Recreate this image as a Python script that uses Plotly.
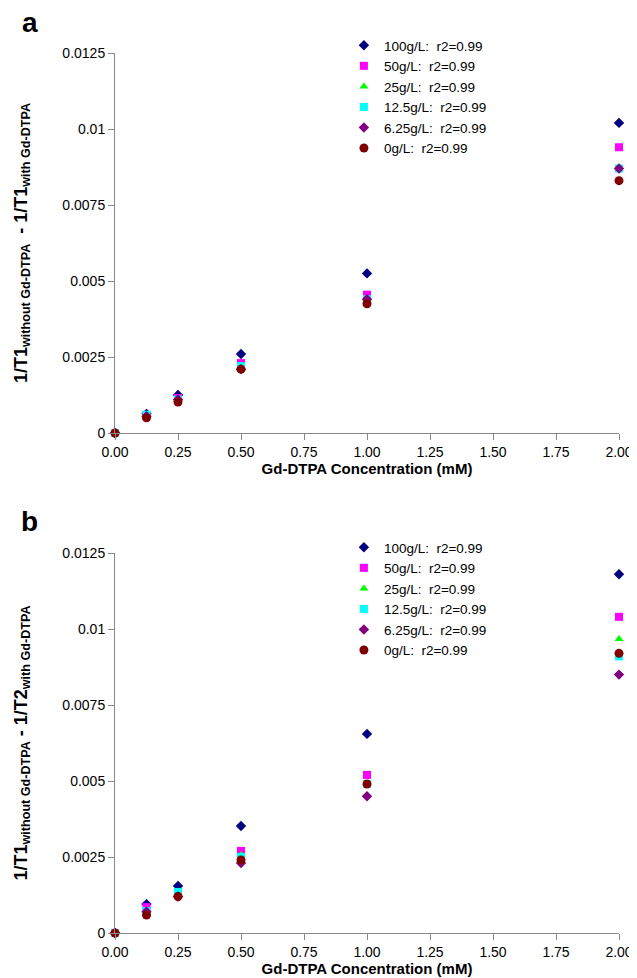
import plotly.graph_objects as go

conc = [0.0, 0.125, 0.25, 0.5, 1.0, 2.0]
labels = ["100g/L:\u00a0 r2=0.99", "50g/L:\u00a0 r2=0.99", "25g/L:\u00a0 r2=0.99",
          "12.5g/L:\u00a0 r2=0.99", "6.25g/L:\u00a0 r2=0.99", "0g/L:\u00a0 r2=0.99"]

# panel a: 1/T1 differences
a_100 = [0.0, 0.00063, 0.00125, 0.0026, 0.00525, 0.0102]
a_50 = [0.0, 0.00058, 0.00115, 0.0023, 0.00455, 0.0094]
a_25 = [0.0, 0.00055, 0.0011, 0.0021, 0.0044, 0.0087]
a_12 = [0.0, 0.0006, 0.0011, 0.0022, 0.0044, 0.0087]
a_6 = [0.0, 0.00055, 0.0011, 0.0021, 0.0044, 0.0087]
a_0 = [0.0, 0.0005, 0.00102, 0.0021, 0.00425, 0.0083]

# panel b: T1/T2 differences
b_100 = [0.0, 0.00095, 0.00155, 0.00352, 0.00655, 0.0118]
b_50 = [0.0, 0.00085, 0.00135, 0.0027, 0.0052, 0.0104]
b_25 = [0.0, 0.00075, 0.0013, 0.00257, 0.0049, 0.00967]
b_12 = [0.0, 0.00072, 0.00135, 0.0025, 0.0049, 0.0091]
b_6 = [0.0, 0.0007, 0.0012, 0.0023, 0.0045, 0.0085]
b_0 = [0.0, 0.00059, 0.0012, 0.0024, 0.0049, 0.0092]

y_ticks = [0, 0.0025, 0.005, 0.0075, 0.01, 0.0125]
y_ticktext = ["0", "0.0025", "0.005", "0.0075", "0.01", "0.0125"]

colors = ["#000080", "#FF00FF", "#00FF00", "#00FFFF", "#800080", "#800000"]
symbols = ["diamond", "square", "triangle-up", "square", "diamond", "circle"]
sizes = [8, 8, 8, 8, 8, 9]

FONT = "Liberation Sans, Arial, Helvetica, sans-serif"

W, H = 637, 978
ML, MR, MT, MB = 107, 17, 45, 53
plot_w = W - ML - MR
plot_h = H - MT - MB

fig = go.Figure()
for series, xa, ya, lg in [([a_100, a_50, a_25, a_12, a_6, a_0], "x", "y", "legend"),
                           ([b_100, b_50, b_25, b_12, b_6, b_0], "x2", "y2", "legend2")]:
    for vals, name, c, s, sz in zip(series, labels, colors, symbols, sizes):
        fig.add_trace(go.Scatter(
            x=conc, y=vals, mode="markers", name=name,
            marker=dict(color=c, symbol=s, size=sz, line=dict(width=0)),
            xaxis=xa, yaxis=ya, legend=lg, cliponaxis=False))

axis_common = dict(showgrid=False, zeroline=False, showline=True, linecolor="#888888",
                   linewidth=1, ticks="outside", ticklen=6, tickcolor="#888888",
                   tickfont=dict(family=FONT, size=14, color="#000000"))

xt = dict(range=[0, 2], tickvals=[0, 0.25, 0.5, 0.75, 1, 1.25, 1.5, 1.75, 2],
          tickformat=".2f", **axis_common)
yt = dict(range=[0, 0.0125], tickvals=y_ticks, ticktext=y_ticktext, **axis_common)

xtitle = dict(text="<b>Gd-DTPA Concentration (mM)</b>",
              font=dict(family=FONT, size=15, color="#000"), standoff=4)

b_top = (925 - 545) / plot_h
a_bot = (925 - 425) / plot_h

leg_font = dict(family=FONT, size=13.5, color="#000")
leg_x = (340 - ML) / plot_w

fig.update_layout(
    width=W, height=H,
    margin=dict(l=ML, r=MR, t=MT, b=MB),
    paper_bgcolor="white", plot_bgcolor="white",
    font=dict(family=FONT, color="#000"),
    xaxis=dict(domain=[0, 1], anchor="y", title=xtitle, **xt),
    yaxis=dict(domain=[a_bot, 1], anchor="x",
               title=dict(text="<b>1/T1<sub>without Gd-DTPA</sub>  - 1/T1<sub>with Gd-DTPA</sub></b>",
                          font=dict(family=FONT, size=18, color="#000"), standoff=30), **yt),
    xaxis2=dict(domain=[0, 1], anchor="y2", title=xtitle, **xt),
    yaxis2=dict(domain=[0, b_top], anchor="x2",
                title=dict(text="<b>1/T1<sub>without Gd-DTPA</sub> - 1/T2<sub>with Gd-DTPA</sub></b>",
                           font=dict(family=FONT, size=18, color="#000"), standoff=30), **yt),
    legend=dict(x=leg_x, y=1 + 23 / plot_h, xanchor="left", yanchor="top",
                bgcolor="rgba(0,0,0,0)", font=leg_font, itemwidth=30, tracegroupgap=0),
    legend2=dict(x=leg_x, y=b_top + 21 / plot_h, xanchor="left", yanchor="top",
                 bgcolor="rgba(0,0,0,0)", font=leg_font, itemwidth=30, tracegroupgap=0),
)

fig.add_annotation(text="<b>a</b>", xref="paper", yref="paper",
                   x=-(ML - 20) / plot_w, y=(H - MB - 15) / plot_h, xanchor="center", yanchor="middle",
                   showarrow=False, font=dict(family=FONT, size=28, color="#000"))
fig.add_annotation(text="<b>b</b>", xref="paper", yref="paper",
                   x=-(ML - 20) / plot_w, y=(H - MB - 513) / plot_h, xanchor="center", yanchor="middle",
                   showarrow=False, font=dict(family=FONT, size=28, color="#000"))

fig.write_html("out.html")
